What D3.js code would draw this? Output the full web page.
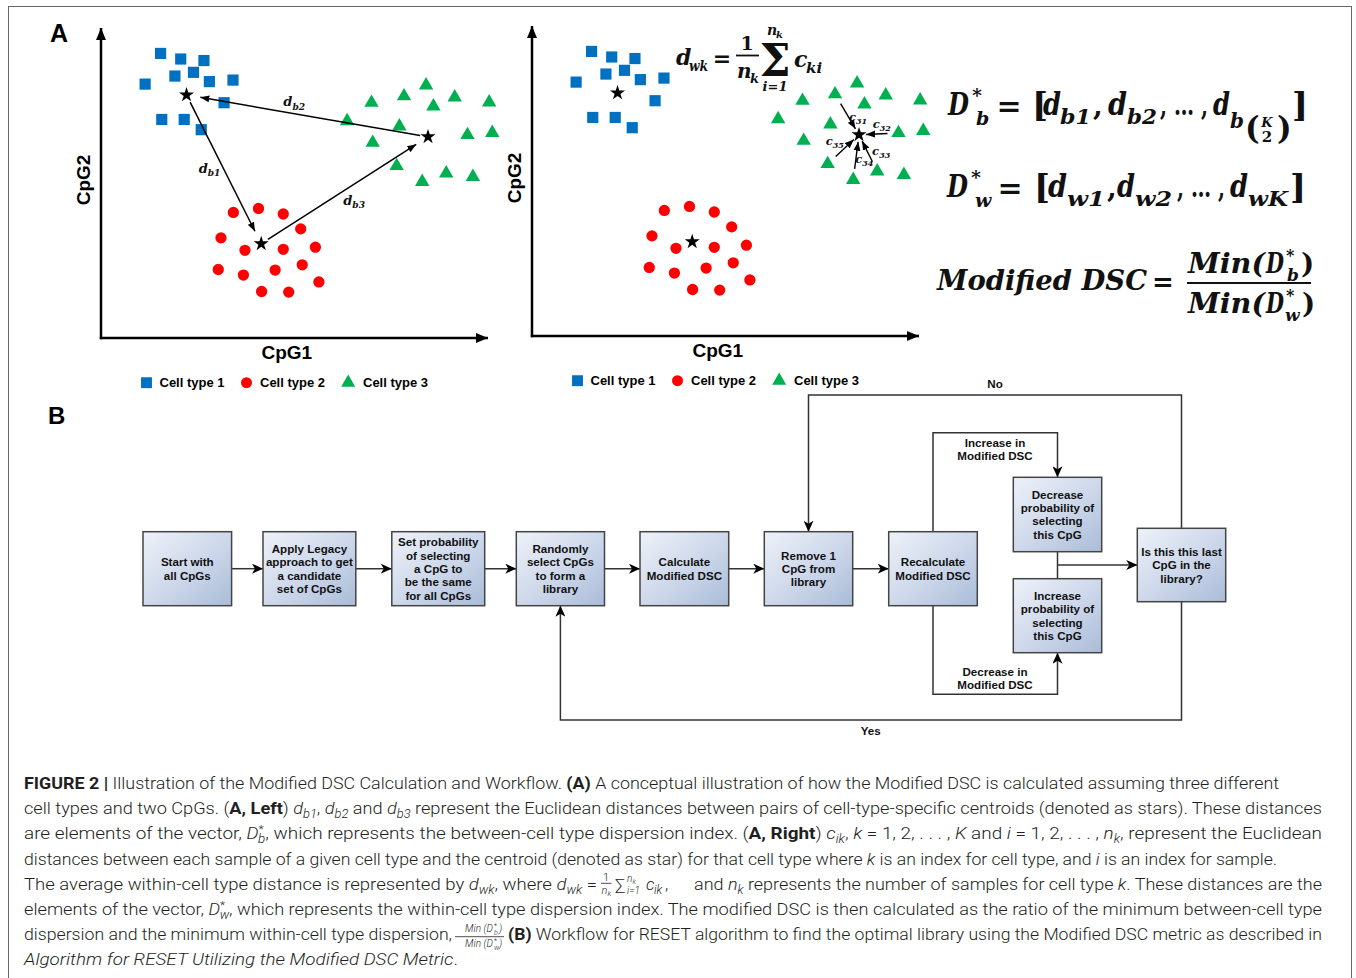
<!DOCTYPE html>
<html>
<head>
<meta charset="utf-8">
<script src="https://cdn.jsdelivr.net/npm/d3@7"></script>
<style>
  body { margin: 0; background: #fff; }
  svg { display: block; }
</style>
</head>
<body>
<svg id="fig" width="1356" height="978"></svg>
<script>
// ---------- data (CpG1 / CpG2 in arbitrary 0-100 units) ----------
const cellTypes = ["Cell type 1", "Cell type 2", "Cell type 3"];
const type1Pts = [[15.4,91.8],[20.6,90.0],[26.6,89.5],[23.9,85.7],[19.1,84.5],[28.0,82.7],
                  [34.1,83.2],[11.4,81.9],[31.8,75.9],[15.7,70.5],[21.5,70.5],[25.9,67.2]];
const type2Pts = [[34.2,40.5],[40.7,41.8],[47.1,40.0],[51.6,35.2],[31.0,32.3],[37.2,28.3],
                  [47.1,28.6],[55.4,29.3],[30.3,22.1],[36.8,20.3],[45.0,21.9],[52.0,23.6],
                  [56.3,18.1],[41.5,15.0],[48.5,14.8]];
const type3Pts = [[84.0,81.5],[78.3,78.0],[69.9,75.9],[85.9,74.7],[91.4,77.6],[100.3,76.0],
                  [63.6,70.0],[77.1,68.3],[70.2,63.0],[94.7,65.5],[101.1,66.2],[76.4,55.5],
                  [89.2,53.1],[83.0,50.4],[96.1,52.0]];
const centroids = [[22.1,78.4],[41.4,30.4],[84.5,64.9]];
// between-type distances: from centroid -> to centroid
const betweenLinks = [{from:0, to:1, sub:"b1"}, {from:2, to:0, sub:"b2"}, {from:1, to:2, sub:"b3"}];
// within-type distances for cell type 3: sample index -> centroid
const withinLinks = [{pt:1, sub:"31"}, {pt:9, sub:"32"}, {pt:12, sub:"33"}, {pt:13, sub:"34"}, {pt:11, sub:"35"}];

const stepText = [
  ["Start with", "all CpGs"],
  ["Apply Legacy", "approach to get", "a candidate", "set of CpGs"],
  ["Set probability", "of selecting", "a CpG to", "be the same", "for all CpGs"],
  ["Randomly", "select CpGs", "to form a", "library"],
  ["Calculate", "Modified DSC"],
  ["Remove 1", "CpG from", "library"],
  ["Recalculate", "Modified DSC"],
  ["Decrease", "probability of", "selecting", "this CpG"],
  ["Increase", "probability of", "selecting", "this CpG"],
  ["Is this this last", "CpG in the", "library?"]
];

const captionText = [
  [[["b","FIGURE 2 | "],["n","Illustration of the Modified DSC Calculation and Workflow. "],["b","(A)"],["n"," A conceptual illustration of how the Modified DSC is calculated assuming three different"]]],
  [[["n","cell types and two CpGs. ("],["b","A, Left"],["n",") "],["i","d"],["sub","b1"],["n",", "],["i","d"],["sub","b2"],["n"," and "],["i","d"],["sub","b3"],["n"," represent the Euclidean distances between pairs of cell-type-specific centroids (denoted as stars). These distances"]]],
  [[["n","are elements of the vector, "],["i","D"],["ss","b"],["n",", which represents the between-cell type dispersion index. ("],["b","A, Right"],["n",") "],["i","c"],["sub","ik"],["n",", "],["i","k"],["n"," = 1, 2, . . . , "],["i","K"],["n"," and "],["i","i"],["n"," = 1, 2, . . . , "],["i","n"],["sub","k"],["n",", represent the Euclidean"]]],
  [[["n","distances between each sample of a given cell type and the centroid (denoted as star) for that cell type where "],["i","k"],["n"," is an index for cell type, and "],["i","i"],["n"," is an index for sample."]]],
  [[["n","The average within-cell type distance is represented by "],["i","d"],["sub","wk"],["n",", where "],["i","d"],["sub","wk"],["n"," ="]],
   [["n","and "],["i","n"],["sub","k"],["n"," represents the number of samples for cell type "],["i","k"],["n",". These distances are the"]]],
  [[["n","elements of the vector, "],["i","D"],["ss","w"],["n",", which represents the within-cell type dispersion index. The modified DSC is then calculated as the ratio of the minimum between-cell type"]]],
  [[["n","dispersion and the minimum within-cell type dispersion,"]],
   [["b","(B)"],["n"," Workflow for RESET algorithm to find the optimal library using the Modified DSC metric as described in"]]],
  [[["i","Algorithm for RESET Utilizing the Modified DSC Metric"],["n","."]]]
];

// ---------- layout ----------
const MATH = "'DejaVu Serif', 'Liberation Serif', serif";
const SANS = "'Liberation Sans', Arial, sans-serif";
const CAPF = "Roboto, 'Liberation Sans', sans-serif";
const typeColors = ["#0070c0", "#ff0000", "#00b050"];
const typeSymbols = [d3.symbolSquare, d3.symbolCircle, d3.symbolTriangle];
const typeSizes = [125, 100, 90];

const svg = d3.select("#fig");
const defs = svg.append("defs");

function marker(id, vb, path, w, h) {
  defs.append("marker")
    .attr("id", id)
    .attr("viewBox", vb)
    .attr("refX", 0).attr("refY", 0)
    .attr("markerWidth", w).attr("markerHeight", h)
    .attr("markerUnits", "userSpaceOnUse")
    .attr("orient", "auto")
    .append("path").attr("d", path).attr("fill", "#000");
}
marker("axisArrow", "-12 -5 12 10", "M-12,-5L0,0L-12,5Z", 12, 10);
marker("thinArrow", "-9 -4 9 8", "M-9,-3.5L0,0L-9,3.5Z", 9, 8);
marker("flowArrow", "-11 -5 11 10", "M0,0L-11,-5L-8,0L-11,5Z", 11, 10);

const grad = defs.append("linearGradient").attr("id", "boxGrad")
  .attr("x1", 0).attr("y1", 0).attr("x2", 1).attr("y2", 1);
grad.append("stop").attr("offset", 0).attr("stop-color", "#eef2f9");
grad.append("stop").attr("offset", 0.5).attr("stop-color", "#cfd9eb");
grad.append("stop").attr("offset", 1).attr("stop-color", "#aabcd8");

// frame
svg.append("rect").attr("x", 8.5).attr("y", 6.5).attr("width", 1343).attr("height", 1000)
  .attr("fill", "none").attr("stroke", "#666").attr("stroke-width", 1);

svg.append("text").attr("x", 50).attr("y", 42).attr("font-family", SANS)
  .attr("font-weight", "bold").attr("font-size", 25).text("A");
svg.append("text").attr("x", 48).attr("y", 424).attr("font-family", SANS)
  .attr("font-weight", "bold").attr("font-size", 24).text("B");

function mtext(parent, str, xx, yy, size, o = {}) {
  const t = parent.append("text").attr("x", xx).attr("y", yy)
    .attr("font-family", MATH).attr("font-size", size)
    .attr("font-weight", "bold")
    .attr("font-style", o.up ? "normal" : "italic")
    .attr("text-anchor", o.anchor || "start")
    .attr("fill", "#111")
    .text(str);
  if (o.w) t.attr("textLength", o.w).attr("lengthAdjust", "spacingAndGlyphs");
  return t;
}

// ---------- panel A scatter plots ----------
const W = 387, H = 310;
const x = d3.scaleLinear().domain([0, 100]).range([0, W]);
const y = d3.scaleLinear().domain([0, 100]).range([H, 0]);
const panels = [
  {x0: 101, y0: 338, mode: "between"},
  {x0: 532, y0: 336, mode: "within"}
];

function shorten(a, b, s0, s1) {
  const dx = b[0] - a[0], dy = b[1] - a[1], L = Math.hypot(dx, dy);
  const ux = dx / L, uy = dy / L;
  return [a[0] + ux * s0, a[1] + uy * s0, b[0] - ux * s1, b[1] - uy * s1];
}

function subLabel(g, cx, cy, main, sub, size) {
  const t = g.append("text").attr("x", cx).attr("y", cy + size * 0.3)
    .attr("text-anchor", "middle").attr("font-family", MATH)
    .attr("font-weight", "bold").attr("font-style", "italic")
    .attr("font-size", size).attr("fill", "#111");
  t.append("tspan").text(main);
  t.append("tspan").attr("font-size", size * 0.7).attr("dy", size * 0.25).text(sub);
}

panels.forEach(p => {
  const g = svg.append("g").attr("transform", `translate(${p.x0},${p.y0 - H})`);

  g.append("line").attr("x1", x(0)).attr("y1", y(0) + 1.2).attr("x2", x(0)).attr("y2", y(100))
    .attr("stroke", "#000").attr("stroke-width", 2.5).attr("marker-end", "url(#axisArrow)");
  g.append("line").attr("x1", x(0) - 1.2).attr("y1", y(0)).attr("x2", x(100)).attr("y2", y(0))
    .attr("stroke", "#000").attr("stroke-width", 2.5).attr("marker-end", "url(#axisArrow)");

  g.append("text").attr("x", x(48)).attr("y", y(0) + 21).attr("text-anchor", "middle")
    .attr("font-family", SANS).attr("font-weight", "bold").attr("font-size", 19).text("CpG1");
  g.append("text").attr("transform", `translate(${x(0) - 11},${y(51)}) rotate(-90)`)
    .attr("text-anchor", "middle").attr("font-family", SANS).attr("font-weight", "bold")
    .attr("font-size", 19).text("CpG2");

  [type1Pts, type2Pts, type3Pts].forEach((pts, k) => {
    g.append("g").selectAll("path").data(pts).join("path")
      .attr("transform", d => `translate(${x(d[0])},${y(d[1])})`)
      .attr("d", d3.symbol(typeSymbols[k], typeSizes[k]))
      .attr("fill", typeColors[k]);
  });

  g.append("g").selectAll("path").data(centroids).join("path")
    .attr("transform", d => `translate(${x(d[0])},${y(d[1])})`)
    .attr("d", d3.symbol(d3.symbolStar, 70))
    .attr("fill", "#000");

  const px = d => [x(d[0]), y(d[1])];

  if (p.mode === "between") {
    const labelOff = [[-13, 2], [-16, -14], [12, 9]];
    betweenLinks.forEach((l, i) => {
      const s = shorten(px(centroids[l.from]), px(centroids[l.to]), 8, 14);
      g.append("line").attr("x1", s[0]).attr("y1", s[1]).attr("x2", s[2]).attr("y2", s[3])
        .attr("stroke", "#000").attr("stroke-width", 1.5).attr("marker-end", "url(#thinArrow)");
      subLabel(g, (s[0] + s[2]) / 2 + labelOff[i][0], (s[1] + s[3]) / 2 + labelOff[i][1], "d", l.sub, 13);
    });
  } else {
    const labelOff = [[10, 1], [5, -9], [14, 0], [8, 4], [-10, -6]];
    withinLinks.forEach((l, i) => {
      const s = shorten(px(type3Pts[l.pt]), px(centroids[2]), 11, 7);
      g.append("line").attr("x1", s[0]).attr("y1", s[1]).attr("x2", s[2]).attr("y2", s[3])
        .attr("stroke", "#000").attr("stroke-width", 1.4).attr("marker-end", "url(#thinArrow)");
      subLabel(g, (s[0] + s[2]) / 2 + labelOff[i][0], (s[1] + s[3]) / 2 + labelOff[i][1], "c", l.sub, 11.5);
    });
  }

  // legend
  const ly = H + 44.7;
  const symX = [45.5, 145.5, 247.2], txtX = [58.5, 159, 262];
  cellTypes.forEach((name, k) => {
    g.append("path").attr("transform", `translate(${symX[k]},${ly})`)
      .attr("d", d3.symbol(typeSymbols[k], typeSizes[k] * 0.95)).attr("fill", typeColors[k]);
    g.append("text").attr("x", txtX[k]).attr("y", ly + 4.5).attr("font-family", SANS)
      .attr("font-weight", "bold").attr("font-size", 13).text(name);
  });
});

// ---------- formulas ----------
const fm = svg.append("g");
// d_wk = 1/n_k sum c_ki
mtext(fm, "d", 676, 65, 22);
mtext(fm, "wk", 689, 71, 15, {w: 19});
mtext(fm, "=", 722, 66, 22, {up: true, anchor: "middle"});
mtext(fm, "1", 747, 50, 19, {up: true, anchor: "middle"});
fm.append("line").attr("x1", 736).attr("x2", 759).attr("y1", 55.5).attr("y2", 55.5)
  .attr("stroke", "#111").attr("stroke-width", 1.8);
mtext(fm, "n", 737, 78, 20);
mtext(fm, "k", 750, 83, 13);
mtext(fm, "\u03A3", 775, 76, 44, {up: true, anchor: "middle"});
mtext(fm, "n", 767, 35, 14);
mtext(fm, "k", 776, 38, 10);
mtext(fm, "i=1", 775, 91, 13, {anchor: "middle"});
mtext(fm, "c", 794, 67, 22);
mtext(fm, "ki", 806, 73, 15);

// D*_b
mtext(fm, "D", 948, 115, 32, {w: 21});
mtext(fm, "*", 972, 102, 19, {up: true});
mtext(fm, "b", 976, 125, 19);
mtext(fm, "=", 1009, 116, 30, {up: true, anchor: "middle"});
mtext(fm, "[", 1032, 117, 34, {up: true});
mtext(fm, "d", 1043, 115, 32, {w: 18});
mtext(fm, "b1", 1060, 124, 20, {w: 31});
mtext(fm, ",", 1093, 115, 28, {up: true});
mtext(fm, "d", 1108, 115, 32, {w: 19});
mtext(fm, "b2", 1127, 124, 20, {w: 30});
mtext(fm, ", \u2026 ,", 1160, 115, 28, {up: true, w: 48});
mtext(fm, "d", 1213, 115, 32, {w: 17});
mtext(fm, "b", 1230, 128, 20);
mtext(fm, "(", 1245, 139, 31, {up: true});
mtext(fm, "K", 1267, 127, 13, {anchor: "middle"});
mtext(fm, "2", 1267, 142, 15, {up: true, anchor: "middle"});
mtext(fm, ")", 1277, 139, 31, {up: true});
mtext(fm, "]", 1292, 117, 34, {up: true});

// D*_w
mtext(fm, "D", 947, 197, 32, {w: 21});
mtext(fm, "*", 971, 184, 19, {up: true});
mtext(fm, "w", 975, 207, 19);
mtext(fm, "=", 1010, 198, 30, {up: true, anchor: "middle"});
mtext(fm, "[", 1034, 199, 34, {up: true});
mtext(fm, "d", 1048, 197, 32, {w: 19});
mtext(fm, "w1", 1067, 206, 20, {w: 38});
mtext(fm, ",", 1107, 197, 28, {up: true});
mtext(fm, "d", 1117, 197, 32, {w: 18});
mtext(fm, "w2", 1135, 206, 20, {w: 37});
mtext(fm, ", \u2026 ,", 1177, 197, 28, {up: true, w: 48});
mtext(fm, "d", 1230, 197, 32, {w: 18});
mtext(fm, "wK", 1248, 206, 20, {w: 40});
mtext(fm, "]", 1290, 199, 34, {up: true});

// Modified DSC = Min(D*_b) / Min(D*_w)
mtext(fm, "Modified DSC", 937, 290, 28, {w: 210});
mtext(fm, "=", 1163, 291, 26, {up: true, anchor: "middle"});
fm.append("line").attr("x1", 1187).attr("x2", 1311).attr("y1", 283).attr("y2", 283)
  .attr("stroke", "#111").attr("stroke-width", 2);
mtext(fm, "Min(", 1188, 273, 28, {w: 77});
mtext(fm, "D", 1266, 273, 28, {w: 18});
mtext(fm, "*", 1286, 261, 16, {up: true});
mtext(fm, "b", 1287, 281, 17);
mtext(fm, ")", 1301, 273, 28, {up: true});
mtext(fm, "Min(", 1188, 313, 28, {w: 77});
mtext(fm, "D", 1266, 313, 28, {w: 18});
mtext(fm, "*", 1286, 301, 16, {up: true});
mtext(fm, "w", 1285, 321, 17);
mtext(fm, ")", 1302, 313, 28, {up: true});

// ---------- panel B flowchart ----------
const boxLayout = [
  [143, 531.7, 88.6, 74], [263, 531.7, 92.8, 74], [391.8, 531.7, 92.9, 74],
  [516.3, 531.7, 88.2, 74], [640, 531.7, 88.7, 74], [764.3, 531.7, 88.4, 74],
  [888.7, 531.7, 88.6, 74], [1013.3, 477.3, 88.4, 74.4], [1013.3, 578.7, 88.4, 74],
  [1137.3, 528.3, 88.4, 73.4]
];
const flow = svg.append("g");
const line = d3.line();
const conns = [
  [[231.6, 568.7], [263, 568.7]],
  [[355.8, 568.7], [391.8, 568.7]],
  [[484.7, 568.7], [516.3, 568.7]],
  [[604.5, 568.7], [640, 568.7]],
  [[728.7, 568.7], [764.3, 568.7]],
  [[852.7, 568.7], [888.7, 568.7]],
  [[933, 531.7], [933, 432.7], [1057.5, 432.7], [1057.5, 477.3]],
  [[933, 605.7], [933, 694.3], [1057.5, 694.3], [1057.5, 652.7]],
  [[1057.5, 565], [1137.3, 565]],
  [[1181.5, 528.3], [1181.5, 395], [808.5, 395], [808.5, 531.7]],
  [[1181.5, 601.7], [1181.5, 720], [560.4, 720], [560.4, 605.7]]
];
flow.selectAll("path.conn").data(conns).join("path")
  .attr("class", "conn").attr("d", line).attr("fill", "none")
  .attr("stroke", "#333").attr("stroke-width", 1.5)
  .attr("marker-end", "url(#flowArrow)");
flow.append("line").attr("x1", 1057.5).attr("x2", 1057.5).attr("y1", 551.7).attr("y2", 578.7)
  .attr("stroke", "#333").attr("stroke-width", 1.5);

const boxes = flow.selectAll("g.box").data(stepText).join("g").attr("class", "box");
boxes.append("rect")
  .attr("x", (d, i) => boxLayout[i][0]).attr("y", (d, i) => boxLayout[i][1])
  .attr("width", (d, i) => boxLayout[i][2]).attr("height", (d, i) => boxLayout[i][3])
  .attr("fill", "url(#boxGrad)").attr("stroke", "#444").attr("stroke-width", 1.5);
boxes.each(function (d, i) {
  const [bx, by, bw, bh] = boxLayout[i];
  const cy = by + bh / 2, lh = 13.3;
  d3.select(this).selectAll("text").data(d).join("text")
    .attr("x", bx + bw / 2)
    .attr("y", (t, j) => cy - (d.length - 1) / 2 * lh + j * lh + 4.2)
    .attr("text-anchor", "middle").attr("font-family", SANS)
    .attr("font-weight", "bold").attr("font-size", 11.6).attr("fill", "#111")
    .text(t => t);
});

const flowLabels = [
  ["No", 995, 388], ["Yes", 870.7, 735],
  ["Increase in", 995, 447], ["Modified DSC", 995, 460],
  ["Decrease in", 995, 676], ["Modified DSC", 995, 689]
];
flow.selectAll("text.lbl").data(flowLabels).join("text").attr("class", "lbl")
  .attr("x", d => d[1]).attr("y", d => d[2]).attr("text-anchor", "middle")
  .attr("font-family", SANS).attr("font-weight", "bold").attr("font-size", 11.6)
  .attr("fill", "#111").text(d => d[0]);

// ---------- caption ----------
const captionSpans = [[[24, 1279]], [[24, 1322]], [[24, 1322]], [[24, 1277]],
  [[24, 597], [694, 1322]], [[24, 1322]], [[24, 452], [508, 1322]], [[24, 458]]];
const capY0 = 789, capDy = 25.2;
const cap = svg.append("g").attr("font-family", CAPF).attr("font-size", 17)
  .attr("font-weight", 300).attr("fill", "#231f20");

function captionRun(parts, x0, x1, yy) {
  const t = cap.append("text").attr("x", x0).attr("y", yy).style("white-space", "pre");
  let shift = 0;
  parts.forEach(([k, s]) => {
    if (k === "sub") {
      t.append("tspan").attr("dy", 4 - shift).attr("font-size", 12).attr("font-style", "italic").text(s);
      shift = 4;
    } else if (k === "ss") {
      t.append("tspan").attr("dy", -6 - shift).attr("font-size", 11).text("*");
      t.append("tspan").attr("dx", -5).attr("dy", 10).attr("font-size", 12).attr("font-style", "italic").text(s);
      shift = 4;
    } else {
      const sp = t.append("tspan").attr("dy", -shift).text(s);
      shift = 0;
      if (k === "b") sp.attr("font-weight", 700);
      if (k === "i") sp.attr("font-style", "italic");
    }
  });
  t.attr("textLength", x1 - x0).attr("lengthAdjust", "spacingAndGlyphs");
}
captionText.forEach((runs, li) => {
  runs.forEach((parts, ri) => {
    const [x0, x1] = captionSpans[li][ri];
    captionRun(parts, x0, x1, capY0 + li * capDy);
  });
});

// inline math in caption line 5: 1/n_k  sum_{i=1}^{n_k} c_ik ,
const y5 = capY0 + 4 * capDy;
function capMath(s, xx, yy, size, o = {}) {
  return cap.append("text").attr("x", xx).attr("y", yy).attr("font-size", size)
    .attr("font-style", o.up ? "normal" : "italic").attr("text-anchor", o.anchor || "start").text(s);
}
capMath("1", 606, y5 - 9, 11, {up: true, anchor: "middle"});
cap.append("line").attr("x1", 601).attr("x2", 611.5).attr("y1", y5 - 6.5).attr("y2", y5 - 6.5)
  .attr("stroke", "#231f20").attr("stroke-width", 0.8);
capMath("n", 601.5, y5 + 4, 11);
capMath("k", 607.5, y5 + 6, 8);
capMath("\u2211", 615, y5 + 1, 17, {up: true});
capMath("n", 627, y5 - 8, 10);
capMath("k", 632.5, y5 - 6, 7);
capMath("i=1", 627, y5 + 4, 10);
capMath("c", 646, y5, 17);
capMath("ik", 654, y5 + 4, 12);
capMath(",", 665, y5, 17, {up: true});

// inline fraction in caption line 7
const y7 = capY0 + 6 * capDy;
const f7 = cap.append("g").attr("font-size", 10).attr("font-style", "italic");
f7.append("text").attr("x", 479).attr("y", y7 - 8).attr("text-anchor", "middle").text("Min (D");
f7.append("text").attr("x", 494).attr("y", y7 - 12).attr("font-size", 7).attr("font-style", "normal").text("*");
f7.append("text").attr("x", 494).attr("y", y7 - 5).attr("font-size", 7).text("b");
f7.append("text").attr("x", 499).attr("y", y7 - 8).text(")");
cap.append("line").attr("x1", 455).attr("x2", 504).attr("y1", y7 - 3.5).attr("y2", y7 - 3.5)
  .attr("stroke", "#231f20").attr("stroke-width", 0.8);
f7.append("text").attr("x", 479).attr("y", y7 + 7).attr("text-anchor", "middle").text("Min (D");
f7.append("text").attr("x", 494).attr("y", y7 + 3).attr("font-size", 7).attr("font-style", "normal").text("*");
f7.append("text").attr("x", 494).attr("y", y7 + 10).attr("font-size", 7).text("w");
f7.append("text").attr("x", 499).attr("y", y7 + 7).text(")");
</script>
</body>
</html>
